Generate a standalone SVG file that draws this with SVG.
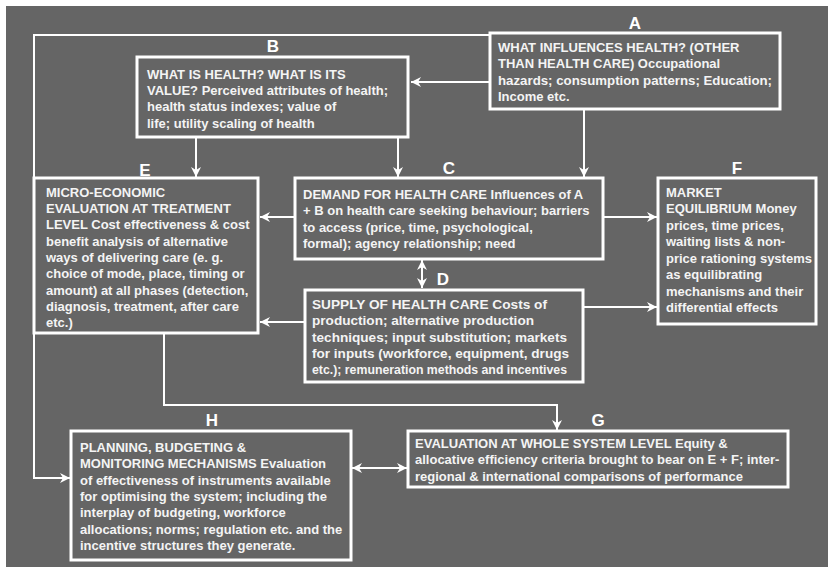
<svg xmlns="http://www.w3.org/2000/svg" width="828" height="567" viewBox="0 0 828 567">
<defs>
<style>
.box{fill:#656565;stroke:#ffffff;stroke-width:3}
.t{font-family:"Liberation Sans",Arial,sans-serif;font-weight:bold;font-size:13px;fill:#f4f4f4}
.lab{font-family:"Liberation Sans",Arial,sans-serif;font-weight:bold;font-size:17px;fill:#ffffff;text-anchor:middle}
.c{fill:none;stroke:#ffffff;stroke-width:2}
</style>
<marker id="ah" viewBox="0 0 10 10" refX="10" refY="5" markerWidth="10" markerHeight="10" markerUnits="userSpaceOnUse" orient="auto-start-reverse">
<path d="M0,0 L10,5 L0,10 L3,5 Z" fill="#ffffff"/>
</marker>
</defs>
<rect x="0" y="0" width="828" height="567" fill="#ffffff"/>
<rect x="6" y="6" width="822" height="561" fill="#656565"/>

<g id="connectors">
<path class="c" d="M490,35 H34 V478 H70" marker-end="url(#ah)"/>
<path class="c" d="M490,82 H411" marker-end="url(#ah)"/>
<path class="c" d="M584,110 V177" marker-end="url(#ah)"/>
<path class="c" d="M196,138 V177" marker-end="url(#ah)"/>
<path class="c" d="M398,138 V177" marker-end="url(#ah)"/>
<path class="c" d="M294,217 H260" marker-end="url(#ah)"/>
<path class="c" d="M304,322 H260" marker-end="url(#ah)"/>
<path class="c" d="M604,217 H657" marker-end="url(#ah)"/>
<path class="c" d="M584,307 H657" marker-end="url(#ah)"/>
<path class="c" d="M422,260 V288" marker-start="url(#ah)" marker-end="url(#ah)"/>
<path class="c" d="M164,334 V405 H557 V430" marker-end="url(#ah)"/>
<path class="c" d="M352,468 H407" marker-start="url(#ah)" marker-end="url(#ah)"/>
</g>

<g id="A">
<text class="lab" x="635" y="29">A</text>
<rect class="box" x="490" y="33" width="290" height="76"/>
<text class="t" x="498" y="52">WHAT INFLUENCES HEALTH? (OTHER</text>
<text class="t" x="498" y="68">THAN HEALTH CARE) Occupational</text>
<text class="t" x="498" y="85" textLength="274" lengthAdjust="spacingAndGlyphs">hazards; consumption patterns; Education;</text>
<text class="t" x="498" y="101">Income etc.</text>
</g>

<g id="B">
<text class="lab" x="273" y="52">B</text>
<rect class="box" x="137" y="57" width="271" height="80"/>
<text class="t" x="147" y="79">WHAT IS HEALTH? WHAT IS ITS</text>
<text class="t" x="147" y="95">VALUE? Perceived attributes of health;</text>
<text class="t" x="147" y="111">health status indexes; value of</text>
<text class="t" x="147" y="128">life; utility scaling of health</text>
</g>

<g id="E">
<text class="lab" x="145" y="176">E</text>
<rect class="box" x="34" y="178" width="224" height="155"/>
<text class="t" x="46" y="197">MICRO-ECONOMIC</text>
<text class="t" x="46" y="213">EVALUATION AT TREATMENT</text>
<text class="t" x="46" y="229">LEVEL Cost effectiveness &amp; cost</text>
<text class="t" x="46" y="246">benefit analysis of alternative</text>
<text class="t" x="46" y="262">ways of delivering care (e. g.</text>
<text class="t" x="46" y="278">choice of mode, place, timing or</text>
<text class="t" x="46" y="295">amount) at all phases (detection,</text>
<text class="t" x="46" y="311">diagnosis, treatment, after care</text>
<text class="t" x="46" y="327">etc.)</text>
</g>

<g id="C">
<text class="lab" x="449" y="174">C</text>
<rect class="box" x="295" y="178" width="308" height="81"/>
<text class="t" x="303" y="199">DEMAND FOR HEALTH CARE Influences of A</text>
<text class="t" x="303" y="215">+ B on health care seeking behaviour; barriers</text>
<text class="t" x="303" y="232">to access (price, time, psychological,</text>
<text class="t" x="303" y="248">formal); agency relationship; need</text>
</g>

<g id="F">
<text class="lab" x="737" y="174">F</text>
<rect class="box" x="658" y="178" width="158" height="146"/>
<text class="t" x="666" y="197">MARKET</text>
<text class="t" x="666" y="213">EQUILIBRIUM Money</text>
<text class="t" x="666" y="230">prices, time prices,</text>
<text class="t" x="666" y="246">waiting lists &amp; non-</text>
<text class="t" x="666" y="263">price rationing systems</text>
<text class="t" x="666" y="279">as equilibrating</text>
<text class="t" x="666" y="296">mechanisms and their</text>
<text class="t" x="666" y="312">differential effects</text>
</g>

<g id="D">
<text class="lab" x="443" y="285">D</text>
<rect class="box" x="305" y="290" width="278" height="92"/>
<text class="t" x="312" y="309" textLength="235" lengthAdjust="spacingAndGlyphs">SUPPLY OF HEALTH CARE Costs of</text>
<text class="t" x="312" y="325" textLength="222" lengthAdjust="spacingAndGlyphs">production; alternative production</text>
<text class="t" x="312" y="342" textLength="255" lengthAdjust="spacingAndGlyphs">techniques; input substitution; markets</text>
<text class="t" x="312" y="358" textLength="257" lengthAdjust="spacingAndGlyphs">for inputs (workforce, equipment, drugs</text>
<text class="t" x="312" y="374" textLength="255" lengthAdjust="spacingAndGlyphs">etc.); remuneration methods and incentives</text>
</g>

<g id="H">
<text class="lab" x="212" y="426">H</text>
<rect class="box" x="71" y="431" width="280" height="129"/>
<text class="t" x="80" y="452">PLANNING, BUDGETING &amp;</text>
<text class="t" x="80" y="468">MONITORING MECHANISMS Evaluation</text>
<text class="t" x="80" y="485">of effectiveness of instruments available</text>
<text class="t" x="80" y="501">for optimising the system; including the</text>
<text class="t" x="80" y="517">interplay of budgeting, workforce</text>
<text class="t" x="80" y="534">allocations; norms; regulation etc. and the</text>
<text class="t" x="80" y="550">incentive structures they generate.</text>
</g>

<g id="G">
<text class="lab" x="598" y="426">G</text>
<rect class="box" x="408" y="431" width="380" height="56"/>
<text class="t" x="415" y="448">EVALUATION AT WHOLE SYSTEM LEVEL Equity &amp;</text>
<text class="t" x="415" y="464">allocative efficiency criteria brought to bear on E + F; inter-</text>
<text class="t" x="415" y="481">regional &amp; international comparisons of performance</text>
</g>
</svg>
